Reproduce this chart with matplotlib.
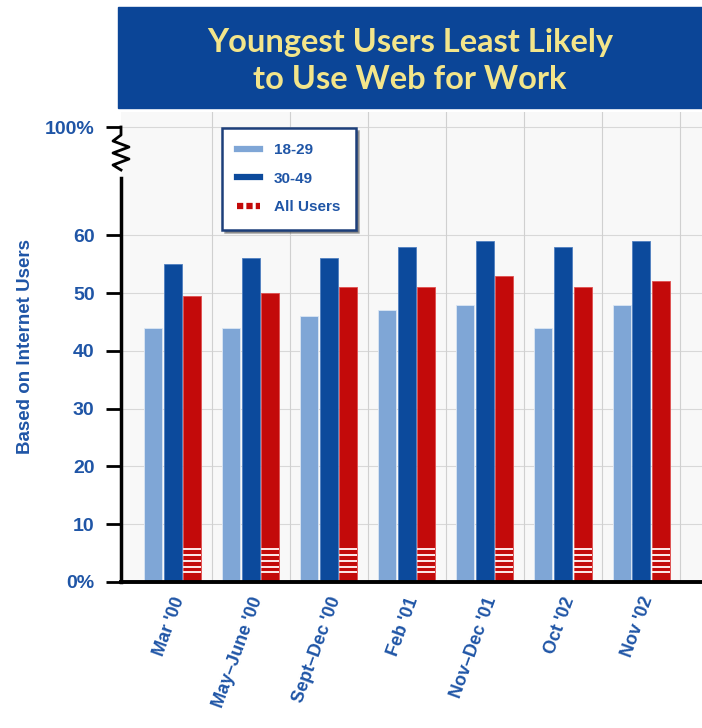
import matplotlib
matplotlib.use("Agg")
import matplotlib.pyplot as plt
import numpy as np
from matplotlib.lines import Line2D

# data (percent of internet users)
periods = ["Mar '00", "May\u2013June '00", "Sept\u2013Dec '00", "Feb '01",
           "Nov\u2013Dec '01", "Oct '02", "Nov '02"]
age_18_29 = [44, 44, 46, 47, 48, 44, 48]
age_30_49 = [55, 56, 56, 58, 59, 58, 59]
all_users = [49.5, 50, 51, 51, 53, 51, 52]
y_ticks = [0, 10, 20, 30, 40, 50, 60]
y_tick_labels = ["0%", "10", "20", "30", "40", "50", "60"]

LIGHT = "#7fa6d6"
DARK = "#0c4a9c"
RED = "#c30a0a"
TEXT = "#1f55a6"
FONT = "Liberation Sans"

fig = plt.figure(figsize=(7.02, 7.28), dpi=100)
ax = fig.add_axes([121 / 702, 1 - 582 / 728, 1 - 121 / 702, (582 - 112) / 728])
ax.set_facecolor("#f8f8f8")

x = np.arange(len(periods))
w = 0.23
ax.bar(x - 0.25, age_18_29, w, color=LIGHT, edgecolor="#dbe6f4", linewidth=0.6, zorder=3)
ax.bar(x, age_30_49, w, color=DARK, edgecolor="#4f7fc0", linewidth=0.6, zorder=3)
ax.bar(x + 0.25, all_users, w, color=RED, edgecolor="#e05050", linewidth=0.6, zorder=3)

# white stripes at the base of the "All Users" bars
for s in [1.5, 2.5, 3.5, 4.5, 5.5]:
    ax.bar(x + 0.25, [0.35] * len(x), w, bottom=s, color="#fbe4e4",
           linewidth=0, zorder=4)

top_val = (582 - 127) / 5.78  # where the "100%" label sits after the axis break
ax.set_xlim(-0.66, 6.78)
ax.set_ylim(0, (582 - 112) / 5.78)

ax.set_yticks(y_ticks + [top_val])
ax.set_yticklabels(y_tick_labels + ["100%"], color=TEXT, fontweight="bold",
                   fontsize=14, family=FONT)
ax.tick_params(axis="y", length=11, width=2, color="black", pad=8, direction="out")

ax.set_xticks(x)
ax.set_xticklabels(periods, rotation=70, ha="right", rotation_mode="anchor",
                   color=TEXT, fontweight="bold", fontsize=13, family=FONT)
ax.tick_params(axis="x", length=0, pad=9)
offs = matplotlib.transforms.ScaledTranslation(-1 / 100, 0, fig.dpi_scale_trans)
for lab in ax.get_xticklabels():
    lab.set_transform(lab.get_transform() + offs)

# grid
for yv in y_ticks[1:] + [top_val]:
    ax.axhline(yv, color="#d8d8d8", linewidth=0.8, zorder=1)
for xv in list(x[:-1] + 0.5) + [6.5]:
    ax.axvline(xv, color="#d0d0d0", linewidth=0.8, zorder=1)

for sp in ["top", "right", "left"]:
    ax.spines[sp].set_visible(False)
ax.spines["bottom"].set_linewidth(2.8)
ax.spines["bottom"].set_zorder(5)

# broken y axis
trans = ax.get_yaxis_transform()
ax.plot([0, 0], [0, (582 - 178) / 5.78], color="black", lw=2.5, transform=trans,
        clip_on=False, zorder=5)
zz_y = np.array([127, 135, 141, 147, 153, 159, 165, 170])
zz_x = np.array([0, 0, -8, 8, -8, 8, -8, 0]) / 581.0
ax.plot(zz_x, (582 - zz_y) / 5.78, color="black", lw=2, transform=trans,
        clip_on=False, zorder=5)

ax.set_ylabel("Based on Internet Users", color=TEXT, fontweight="bold",
              fontsize=13.5, family=FONT, labelpad=8)

# legend
handles = [
    Line2D([], [], color=LIGHT, lw=4.5),
    Line2D([], [], color=DARK, lw=4.5),
    Line2D([], [], color=RED, lw=4.5, linestyle=(0, (1, 0.5))),
]
leg = ax.legend(handles, ["18-29", "30-49", "All Users"], loc="upper left",
                bbox_to_anchor=((222 - 121) / 581, 1 - (128 - 112) / 470),
                frameon=True, fancybox=False, shadow=True, handlelength=1.5,
                borderpad=1.0, labelspacing=0.95, handletextpad=0.9,
                borderaxespad=0,
                prop={"family": FONT, "weight": "bold", "size": 11})
leg.get_frame().set_edgecolor("#1d3f7a")
leg.get_frame().set_linewidth(1.8)
for t in leg.get_texts():
    t.set_color(TEXT)
leg.set_zorder(6)

# title banner
fig.patches.append(plt.Rectangle((118 / 702, 1 - 108 / 728), 1 - 118 / 702, 101 / 728,
                                 transform=fig.transFigure, color="#0b4597", zorder=0))
fig.text(410 / 702, 1 - 61 / 728, "Youngest Users Least Likely\nto Use Web for Work",
         ha="center", va="center", color="#f3e58a", fontsize=23.5, fontweight="bold",
         family="Lato", linespacing=1.35)

fig.savefig("out.png", dpi=100)
